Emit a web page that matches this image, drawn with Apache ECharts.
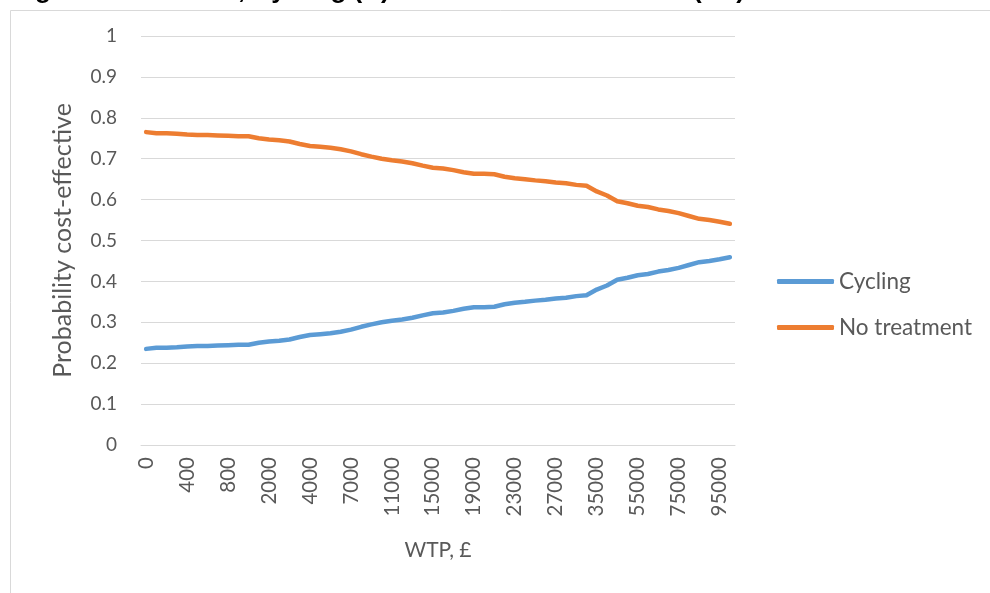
<!DOCTYPE html>
<html>
<head>
<meta charset="utf-8">
<script src="https://cdn.jsdelivr.net/npm/echarts@6/dist/echarts.min.js"></script>
<style>
html,body{margin:0;padding:0;background:#fff;}
#chart{width:990px;height:593px;}
</style>
</head>
<body>
<div id="chart"></div>
<script>
var categories = ['0','100','200','300','400','500','600','700','800','900','1000','1500','2000','2500','3000','3500','4000','4500','5000','6000','7000','8000','9000','10000','11000','12000','13000','14000','15000','16000','17000','18000','19000','20000','21000','22000','23000','24000','25000','26000','27000','29000','31000','33000','35000','40000','45000','50000','55000','60000','65000','70000','75000','80000','85000','90000','95000','100000'];

var cycling = [0.235,0.238,0.238,0.239,0.241,0.242,0.242,0.243,0.244,0.245,0.245,0.250,0.253,0.255,0.258,0.264,0.269,0.271,0.273,0.277,0.282,0.289,0.295,0.300,0.304,0.307,0.311,0.317,0.322,0.324,0.328,0.333,0.337,0.337,0.338,0.344,0.348,0.350,0.353,0.355,0.358,0.360,0.364,0.366,0.380,0.390,0.404,0.409,0.415,0.418,0.424,0.428,0.433,0.440,0.447,0.450,0.454,0.459];

var noTreatment = [0.765,0.762,0.762,0.761,0.759,0.758,0.758,0.757,0.756,0.755,0.755,0.750,0.747,0.745,0.742,0.736,0.731,0.729,0.727,0.723,0.718,0.711,0.705,0.700,0.696,0.693,0.689,0.683,0.678,0.676,0.672,0.667,0.663,0.663,0.662,0.656,0.652,0.650,0.647,0.645,0.642,0.640,0.636,0.634,0.620,0.610,0.596,0.591,0.585,0.582,0.576,0.572,0.567,0.560,0.553,0.550,0.546,0.541];

var seriesNames = ['Cycling','No treatment'];
var titleParts = ['Figure 4: CEAC', ', Cycling (C)', 'versus no treatment (NT)'];

var FONT = 'Lato';
var TXT = '#595959';
var TFONT = 'bold 26px "Liberation Sans"';

var chart = echarts.init(document.getElementById('chart'), null, {renderer:'canvas'});
chart.setOption({
  animation:false,
  backgroundColor:'#ffffff',
  textStyle:{fontFamily:FONT},
  graphic:[
    {type:'rect', shape:{x:10.5,y:10.5,width:1000,height:700}, style:{fill:'none',stroke:'#d9d9d9',lineWidth:1}, silent:true},
    {type:'text', style:{x:12, y:4, text:titleParts[0], font:TFONT, fill:'#000', verticalAlign:'bottom', align:'left'}, silent:true},
    {type:'text', style:{x:238, y:4, text:titleParts[1], font:TFONT, fill:'#000', verticalAlign:'bottom', align:'left'}, silent:true},
    {type:'text', style:{x:745, y:4, text:titleParts[2], font:TFONT, fill:'#000', verticalAlign:'bottom', align:'right'}, silent:true}
  ],
  grid:{left:141, top:36, width:594, height:409, containLabel:false},
  legend:{
    orient:'vertical', left:777, top:270, itemWidth:57, itemHeight:5, itemGap:23, padding:0,
    icon:'roundRect',
    textStyle:{color:TXT, fontSize:22.5, fontFamily:FONT, padding:[0,0,0,0]},
    data:seriesNames
  },
  xAxis:{
    type:'category', data:categories, boundaryGap:true,
    name:'WTP, £', nameLocation:'middle', nameGap:95,
    nameTextStyle:{color:TXT, fontSize:21, fontFamily:FONT},
    axisLine:{show:true, lineStyle:{color:'#d9d9d9', width:1}},
    axisTick:{show:false},
    axisLabel:{interval:3, rotate:90, color:TXT, fontSize:20.5, fontFamily:FONT, margin:12}
  },
  yAxis:{
    type:'value', min:0, max:1, interval:0.1,
    name:'Probability cost-effective', nameLocation:'middle', nameGap:66,
    nameTextStyle:{color:TXT, fontSize:25, fontFamily:FONT},
    axisLine:{show:false}, axisTick:{show:false},
    splitLine:{lineStyle:{color:'#d9d9d9', width:1}},
    axisLabel:{color:TXT, fontSize:19, fontFamily:FONT, margin:24,
      formatter:function(v){return String(Math.round(v*10)/10);}}
  },
  series:[
    {name:seriesNames[0], type:'line', data:cycling, showSymbol:false, symbol:'none',
     lineStyle:{color:'#5B9BD5', width:4.5, cap:'round', join:'round'}, itemStyle:{color:'#5B9BD5'}},
    {name:seriesNames[1], type:'line', data:noTreatment, showSymbol:false, symbol:'none',
     lineStyle:{color:'#ED7D31', width:4.5, cap:'round', join:'round'}, itemStyle:{color:'#ED7D31'}}
  ]
});
</script>
</body>
</html>
